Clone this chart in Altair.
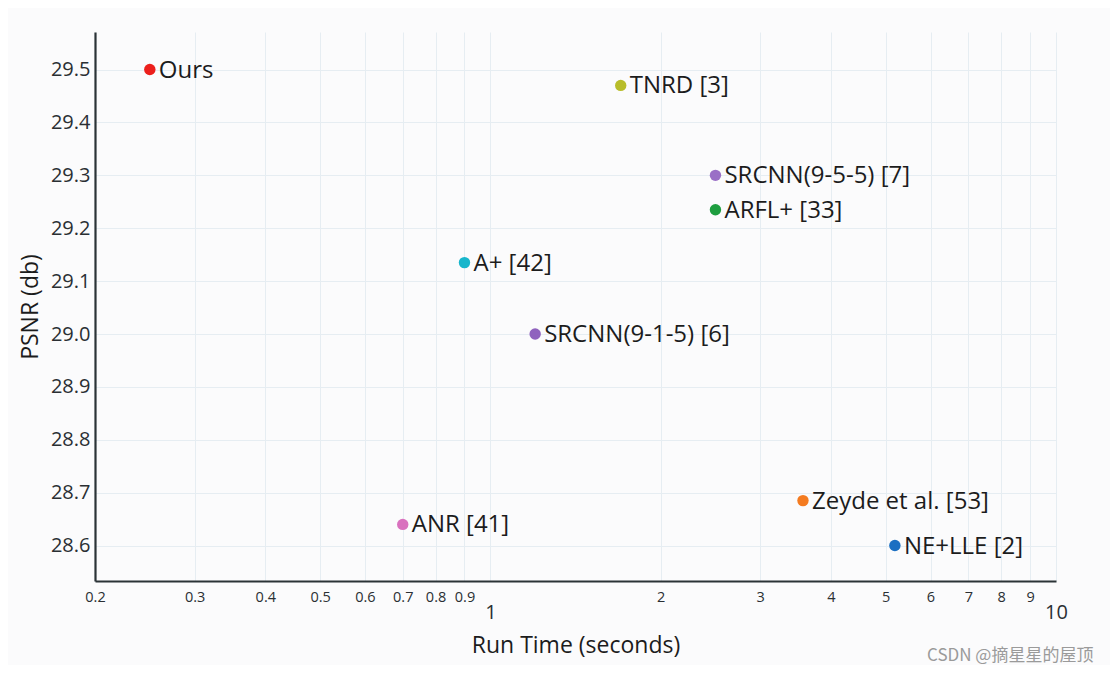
import altair as alt
import pandas as pd

methods = ["Ours", "TNRD [3]", "SRCNN(9-5-5) [7]", "ARFL+ [33]", "A+ [42]",
           "SRCNN(9-1-5) [6]", "ANR [41]", "Zeyde et al. [53]", "NE+LLE [2]"]
run_time = [0.25, 1.70, 2.5, 2.5, 0.9, 1.2, 0.7, 3.57, 5.19]
psnr = [29.50, 29.47, 29.30, 29.235, 29.135, 29.00, 28.64, 28.685, 28.60]
colors = ["#ec1f1c", "#b8bd2a", "#9a6fc6", "#1e9e40", "#17b6cc",
          "#8f62be", "#d971be", "#f47b20", "#1b6fc2"]

x_ticks = [0.2, 0.3, 0.4, 0.5, 0.6, 0.7, 0.8, 0.9, 1, 2, 3, 4, 5, 6, 7, 8, 9, 10]
y_ticks = [28.6, 28.7, 28.8, 28.9, 29.0, 29.1, 29.2, 29.3, 29.4, 29.5]

df = pd.DataFrame({"method": methods, "time": run_time, "psnr": psnr})
df["key"] = range(len(df))

FONT = "Open Sans"
big = "datum.value == 1 || datum.value == 10"

x_enc = alt.X(
    "time:Q",
    scale=alt.Scale(type="log", domain=[0.2, 10], nice=False),
    axis=alt.Axis(
        title="Run Time (seconds)",
        values=x_ticks,
        labelExpr=f"({big}) ? ['', format(datum.value, '~g')] : format(datum.value, '~g')",
        labelFontSize={"condition": {"test": big, "value": 20}, "value": 14.5},
        labelLineHeight=12,
        labelBaseline="top",
        labelOverlap=False,
        labelFlush=False,
        labelPadding=9,
        ticks=False,
        tickSize=0,
        titlePadding=12,
    ),
)
y_enc = alt.Y(
    "psnr:Q",
    scale=alt.Scale(domain=[28.533, 29.571], nice=False, zero=False),
    axis=alt.Axis(
        title="PSNR (db)",
        values=y_ticks,
        format=".1f",
        labelFontSize=20,
        labelPadding=5,
        ticks=False,
        tickSize=0,
        titlePadding=8,
    ),
)
color_enc = alt.Color("key:N", scale=alt.Scale(domain=list(range(len(methods))), range=colors),
                      legend=None)

base = alt.Chart(df)
points = base.mark_circle(size=130, opacity=1).encode(x=x_enc, y=y_enc, color=color_enc)
labels = base.mark_text(align="left", baseline="middle", dx=9, dy=1, fontSize=24,
                        font=FONT, color="#1c1c1c").encode(
    x="time:Q", y="psnr:Q", text="method:N")

chart = alt.layer(points, labels).properties(
    width=961,
    height=549,
    autosize=alt.AutoSizeParams(type="none"),
    padding={"left": 87, "top": 24, "right": 54, "bottom": 84},
    background="#fbfbfc",
    title=alt.TitleParams(
        text="CSDN @摘星星的屋顶", orient="bottom", anchor="end",
        font="Noto Sans CJK SC", fontSize=17, fontWeight="normal",
        color="#9a9a9a", offset=-9, dx=26,
    ),
).configure_view(stroke=None).configure_axis(
    domainColor="#2b3336",
    domainWidth=2.2,
    gridColor="#e6edf2",
    gridWidth=1,
    labelFont=FONT,
    labelColor="#2a2f33",
    titleFont=FONT,
    titleFontSize=23,
    titleFontWeight="normal",
    titleColor="#1c1c1c",
)

chart.save("out.html", embed_options={"renderer": "svg", "actions": False})
